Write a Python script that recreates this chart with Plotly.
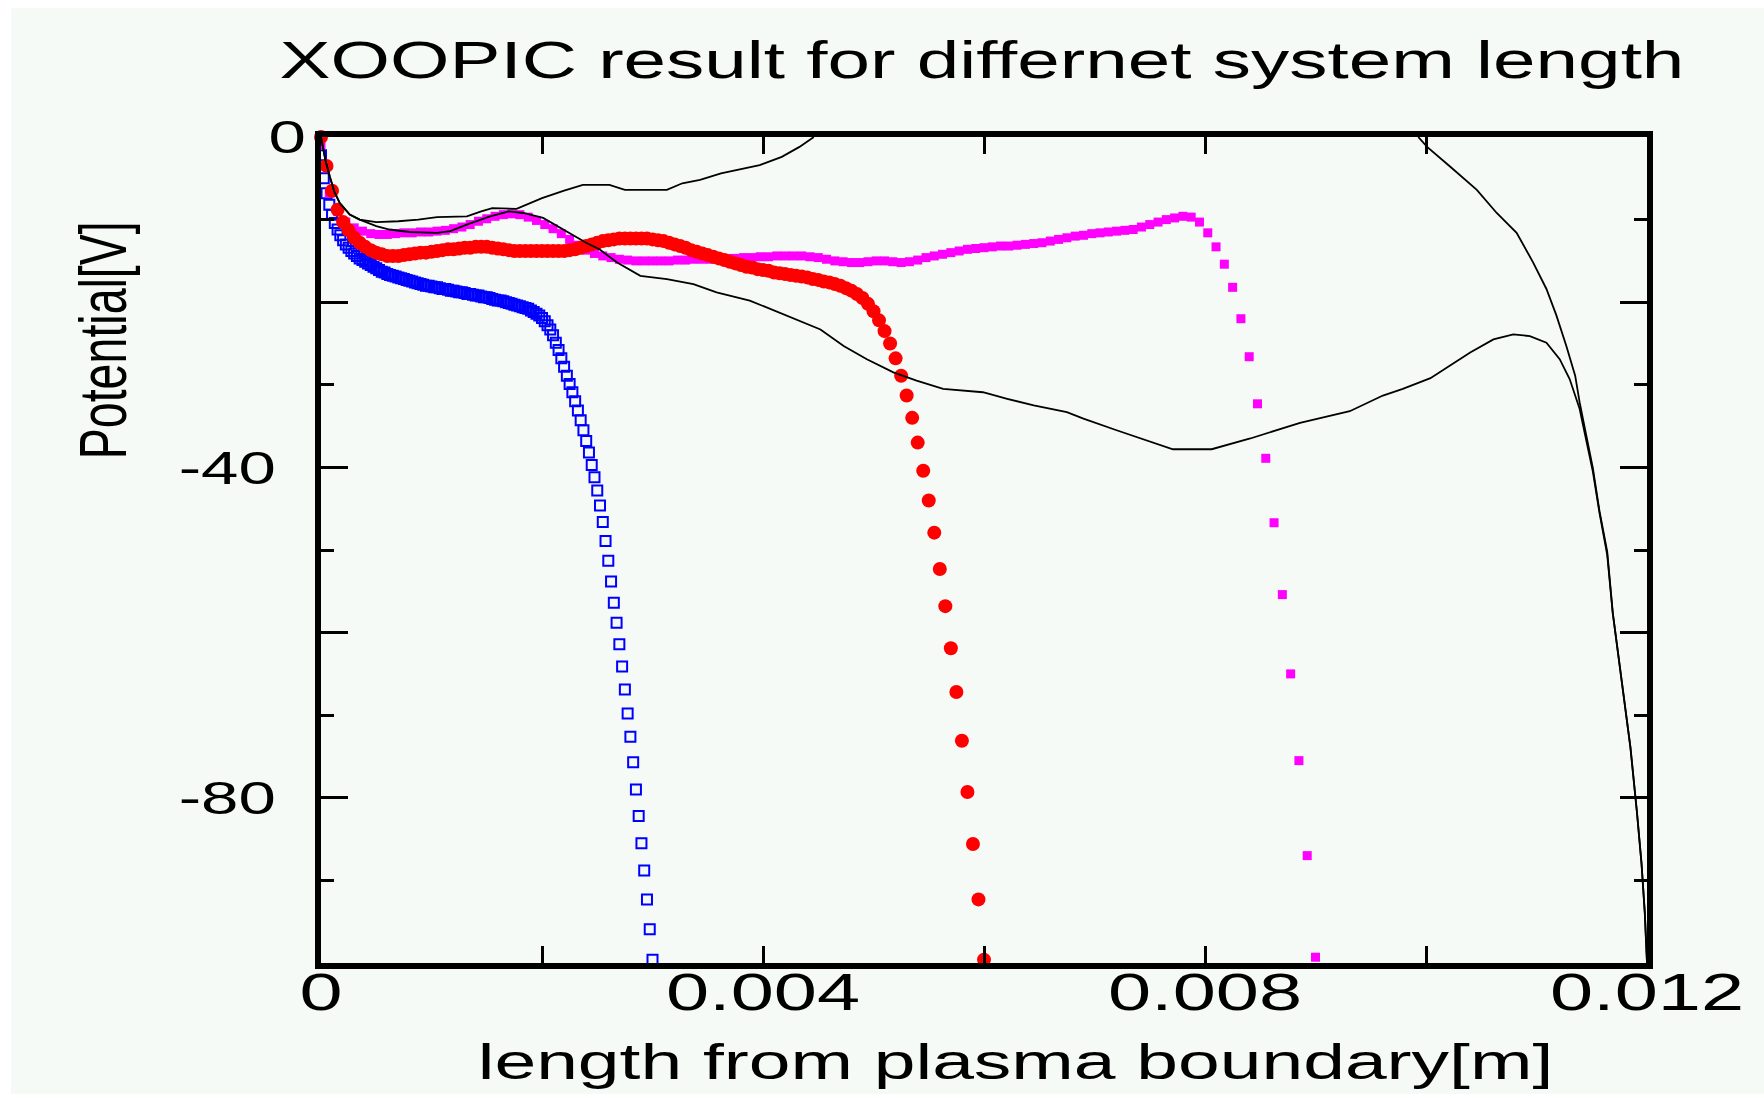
import plotly.graph_objects as go

# ---------------- data (potential in V, position in m) ----------------
# PIC grid steps for the three system lengths
blue_dx = 2.5e-5      # 0.003 m system
red_dx = 5.0e-5       # 0.006 m system
magenta_dx = 7.5e-5   # 0.009 m system

blue_y = [-2.2, -5.0, -6.8, -8.2, -9.4, -10.4, -11.2, -11.9, -12.5, -13.0,
          -13.4, -13.8, -14.1, -14.4, -14.7, -14.9, -15.1, -15.3, -15.5, -15.7,
          -15.9, -16.1, -16.3, -16.4, -16.6, -16.7, -16.8, -16.9, -17.0, -17.1,
          -17.2, -17.3, -17.4, -17.5, -17.6, -17.7, -17.8, -17.9, -18.0, -18.0,
          -18.1, -18.2, -18.2, -18.3, -18.4, -18.4, -18.5, -18.6, -18.6, -18.7,
          -18.8, -18.8, -18.9, -19.0, -19.0, -19.1, -19.2, -19.2, -19.3, -19.4,
          -19.4, -19.5, -19.6, -19.7, -19.8, -19.8, -19.9, -20.0, -20.1, -20.2,
          -20.3, -20.4, -20.5, -20.6, -20.7, -20.8, -21.0, -21.2, -21.4, -21.6,
          -21.9, -22.3, -22.8, -23.3, -24.0, -24.9, -25.8, -26.8, -27.8, -28.9,
          -29.9, -30.9, -32.0, -33.1, -34.3, -35.5, -36.8, -38.2, -39.7, -41.2,
          -42.8, -44.6, -46.6, -48.9, -51.3, -53.8, -56.4, -58.8, -61.4, -64.1,
          -66.9, -69.8, -72.6, -75.7, -79.0, -82.2, -85.5, -88.8, -92.3, -95.9,
          -99.6]

red_y = [0.0, -3.5, -6.5, -8.8, -10.3, -11.3, -12.2, -12.8, -13.3, -13.7,
         -14.0, -14.2, -14.4, -14.4, -14.4, -14.3, -14.2, -14.1, -14.0, -14.0,
         -13.9, -13.8, -13.7, -13.6, -13.6, -13.5, -13.4, -13.4, -13.3, -13.3,
         -13.3, -13.4, -13.5, -13.6, -13.7, -13.8, -13.8, -13.8, -13.8, -13.8,
         -13.8, -13.8, -13.8, -13.8, -13.8, -13.7, -13.6, -13.4, -13.2, -13.0,
         -12.8, -12.6, -12.5, -12.4, -12.3, -12.3, -12.3, -12.3, -12.3, -12.3,
         -12.4, -12.5, -12.6, -12.8, -13.0, -13.2, -13.4, -13.7, -13.9, -14.1,
         -14.3, -14.5, -14.7, -14.9, -15.1, -15.3, -15.5, -15.7, -15.8, -16.0,
         -16.1, -16.2, -16.4, -16.5, -16.6, -16.7, -16.8, -16.9, -17.0, -17.2,
         -17.3, -17.5, -17.6, -17.8, -18.0, -18.3, -18.6, -19.0, -19.5, -20.2,
         -21.1, -22.2, -23.5, -25.0, -26.8, -28.9, -31.3, -34.0, -37.0, -40.4,
         -44.0, -47.9, -52.3, -56.8, -61.9, -67.2, -73.1, -79.3, -85.6, -92.3,
         -99.6]

magenta_y = [-1.0, -6.8, -9.0, -10.3, -11.0, -11.4, -11.7, -11.8, -11.8, -11.7,
             -11.6, -11.6, -11.5, -11.5, -11.4, -11.3, -11.1, -10.9, -10.6, -10.2,
             -9.9, -9.6, -9.4, -9.3, -9.4, -9.7, -10.1, -10.6, -11.1, -11.7,
             -12.4, -13.1, -13.7, -14.1, -14.4, -14.6, -14.8, -14.9, -15.0, -15.0,
             -15.0, -15.0, -15.0, -14.9, -14.9, -14.8, -14.8, -14.8, -14.8, -14.7,
             -14.7, -14.6, -14.6, -14.5, -14.5, -14.4, -14.4, -14.4, -14.4, -14.5,
             -14.6, -14.8, -15.0, -15.1, -15.2, -15.2, -15.1, -15.0, -15.0, -15.1,
             -15.2, -15.1, -14.9, -14.6, -14.4, -14.2, -14.0, -13.8, -13.6, -13.5,
             -13.4, -13.3, -13.2, -13.2, -13.1, -13.0, -12.9, -12.8, -12.6, -12.4,
             -12.2, -12.0, -11.9, -11.7, -11.6, -11.5, -11.4, -11.3, -11.2, -10.9,
             -10.6, -10.3, -10.0, -9.8, -9.6, -9.7, -10.3, -11.6, -13.3, -15.4,
             -18.2, -22.0, -26.6, -32.3, -38.9, -46.7, -55.4, -65.0, -75.5, -87.0,
             -99.3]

blue_x = [i * blue_dx for i in range(len(blue_y))]
red_x = [i * red_dx for i in range(len(red_y))]
magenta_x = [i * magenta_dx for i in range(len(magenta_y))]

# black reference curves (None = leaves the plotted range above 0 V)
black1_x = [0.0, 0.00004, 0.00008, 0.00012, 0.00017, 0.00026, 0.00035, 0.00050,
            0.00070, 0.00088, 0.00105, 0.00132, 0.00145, 0.00155, 0.00177,
            0.00200, 0.00220, 0.00237, 0.00261, 0.00275, 0.00313, 0.00327,
            0.00343, 0.00362, 0.00397, 0.00417, 0.00433, 0.00446, None,
            0.00993, 0.01001, 0.01022, 0.01046, 0.01064, 0.01082, 0.01097,
            0.01109, 0.01118, 0.01127, 0.01135, 0.01139, 0.01145, 0.01151,
            0.01157, 0.01164, 0.01169, 0.01177, 0.01185, 0.01191, 0.01195,
            0.01198, 0.01200]
black1_y = [0.0, -2.8, -4.8, -6.6, -8.0, -9.4, -10.0, -10.3,
            -10.2, -10.0, -9.7, -9.6, -9.0, -8.6, -8.7,
            -7.4, -6.5, -5.8, -5.8, -6.4, -6.4, -5.6,
            -5.2, -4.4, -3.4, -2.4, -1.2, 0.0, None,
            0.0, -1.2, -3.6, -6.4, -9.2, -11.6, -15.2,
            -18.4, -21.6, -25.3, -28.9, -32.1, -36.1, -40.1,
            -45.3, -50.2, -57.6, -65.8, -73.9, -81.9, -87.9,
            -93.9, -100.0]

black2_x = [0.0, 0.00004, 0.00008, 0.00012, 0.00017, 0.00026, 0.00035, 0.00050,
            0.00062, 0.00080, 0.00105, 0.00117, 0.00132, 0.00153, 0.00170,
            0.00183, 0.00201, 0.00219, 0.00240, 0.00252, 0.00268, 0.00289,
            0.00313, 0.00337, 0.00358, 0.00388, 0.00418, 0.00433, 0.00452,
            0.00473, 0.00494, 0.00518, 0.00539, 0.00563, 0.00599, 0.00621,
            0.00645, 0.00675, 0.00690, 0.00720, 0.00750, 0.00771, 0.00806,
            0.00841, 0.00886, 0.00931, 0.00961, 0.00979, 0.01004, 0.01022,
            0.01040, 0.01061, 0.01079, 0.01094, 0.01109, 0.01121, 0.01130,
            0.01139, 0.01145, 0.01151, 0.01157, 0.01164, 0.01169, 0.01177,
            0.01185, 0.01191, 0.01195, 0.01198, 0.01200]
black2_y = [0.0, -2.8, -4.8, -6.6, -8.0, -9.4, -10.0, -10.8,
            -11.2, -11.5, -11.6, -11.4, -10.6, -9.6, -9.0,
            -9.2, -9.8, -11.2, -12.8, -13.6, -15.2, -16.8,
            -17.2, -17.8, -18.8, -19.8, -21.4, -22.2, -23.3,
            -25.3, -26.9, -28.5, -29.5, -30.5, -30.9, -31.7,
            -32.5, -33.3, -34.1, -35.5, -36.8, -37.8, -37.8,
            -36.5, -34.6, -33.2, -31.3, -30.5, -29.2, -27.7,
            -26.1, -24.5, -23.9, -24.1, -24.9, -26.9, -29.3,
            -32.9, -36.5, -40.5, -45.5, -50.6, -57.6, -65.8,
            -73.9, -81.9, -87.9, -93.9, -100.0]

x_tickvals = [0, 0.002, 0.004, 0.006, 0.008, 0.010, 0.012]
x_ticktext = ["0", "", "0.004", "", "0.008", "", "0.012"]
y_tickvals = [0, -20, -40, -60, -80, -100]
y_ticktext = ["0", "", "-40", "", "-80", ""]
y_minor_vals = [-10, -30, -50, -70, -90]

title_text = "XOOPIC result for differnet system length"
x_title = "length from plasma boundary[m]"
y_title = "Potential[V]"

# ---------------- figure ----------------
FONT = "Liberation Sans, Arial, Helvetica, sans-serif"
BG = "#f5faf7"
W, H = 1764, 1094
L, R, T, B = 321, 117, 137, 131
PW, PH = W - L - R, H - T - B

fig = go.Figure()
fig.add_trace(go.Scatter(x=blue_x, y=blue_y, mode="markers", cliponaxis=False,
                         marker=dict(symbol="square-open", size=10, color="#0000ff",
                                     line=dict(width=2, color="#0000ff")),
                         showlegend=False))
fig.add_trace(go.Scatter(x=magenta_x, y=magenta_y, mode="markers", cliponaxis=False,
                         marker=dict(symbol="square", size=9, color="#ff00ff"),
                         showlegend=False))
fig.add_trace(go.Scatter(x=red_x, y=red_y, mode="markers", cliponaxis=False,
                         marker=dict(symbol="circle", size=14, color="#ff0000"),
                         showlegend=False))
fig.add_trace(go.Scatter(x=black1_x, y=black1_y, mode="lines", connectgaps=False,
                         line=dict(color="black", width=1.8), showlegend=False))
fig.add_trace(go.Scatter(x=black2_x, y=black2_y, mode="lines",
                         line=dict(color="black", width=1.8), showlegend=False))

def px_x(p):
    return (p - L) / PW

def px_y(p):
    return (H - B - p) / PH

fig.update_layout(
    width=W, height=H,
    margin=dict(l=L, r=R, t=T, b=B, pad=0),
    paper_bgcolor="white",
    plot_bgcolor=BG,
    font=dict(family=FONT, color="black"),
    title=dict(text=title_text, font=dict(size=52, family=FONT, color="black"),
               xref="container", yref="container", x=982 / W, y=1 - 60 / H,
               xanchor="center", yanchor="middle"),
    shapes=[dict(type="rect", xref="paper", yref="paper", layer="below",
                 x0=px_x(11), x1=px_x(W + 5), y0=px_y(H + 5), y1=px_y(8),
                 fillcolor=BG, line=dict(width=0))],
    annotations=[
        dict(text=x_title, xref="paper", yref="paper", x=px_x(1015), y=px_y(1062),
             xanchor="center", yanchor="middle", showarrow=False,
             font=dict(size=50, family=FONT, color="black")),
        dict(text=y_title, xref="paper", yref="paper", x=px_x(103), y=px_y(340),
             xanchor="center", yanchor="middle", showarrow=False, textangle=-90,
             font=dict(size=66, family=FONT, color="black")),
    ],
    xaxis=dict(range=[0, 0.012], showgrid=False, zeroline=False,
               showline=True, linewidth=6, linecolor="black", mirror="ticks",
               ticks="inside", ticklen=17, tickwidth=3, tickcolor="black",
               tickmode="array", tickvals=x_tickvals, ticktext=x_ticktext,
               tickfont=dict(size=51, family=FONT, color="black"),
               ticklabelstandoff=-20),
    yaxis=dict(range=[-100, 0], showgrid=False, zeroline=False,
               showline=True, linewidth=6, linecolor="black", mirror="ticks",
               ticks="inside", ticklen=27, tickwidth=2.5, tickcolor="black",
               tickmode="array", tickvals=y_tickvals, ticktext=y_ticktext,
               tickfont=dict(size=46, family=FONT, color="black"),
               ticklabelstandoff=30,
               minor=dict(tickmode="array", tickvals=y_minor_vals, ticks="inside",
                          ticklen=13, tickwidth=2.5, tickcolor="black")),
)

post = """
document.body.style.margin='0';
var gd=document.getElementById('{plot_id}');
function st(el,f){var L=el.getComputedTextLength();if(L>0){el.setAttribute('textLength',(L*f).toFixed(1));el.setAttribute('lengthAdjust','spacingAndGlyphs');}}
gd.querySelectorAll('text.gtitle').forEach(function(e){st(e,1.47);});
gd.querySelectorAll('.xtick text').forEach(function(e){st(e,1.52);});
gd.querySelectorAll('.ytick text').forEach(function(e){st(e,1.46); if(e.textContent==='0'){e.setAttribute('dx','30');}});
gd.querySelectorAll('text.annotation-text').forEach(function(e){
  if(e.textContent.indexOf('Potential')===0){e.setAttribute('textLength','238');e.setAttribute('lengthAdjust','spacingAndGlyphs');}
  else {st(e,1.5);}
});
"""

fig.write_html("out.html", post_script=post)
